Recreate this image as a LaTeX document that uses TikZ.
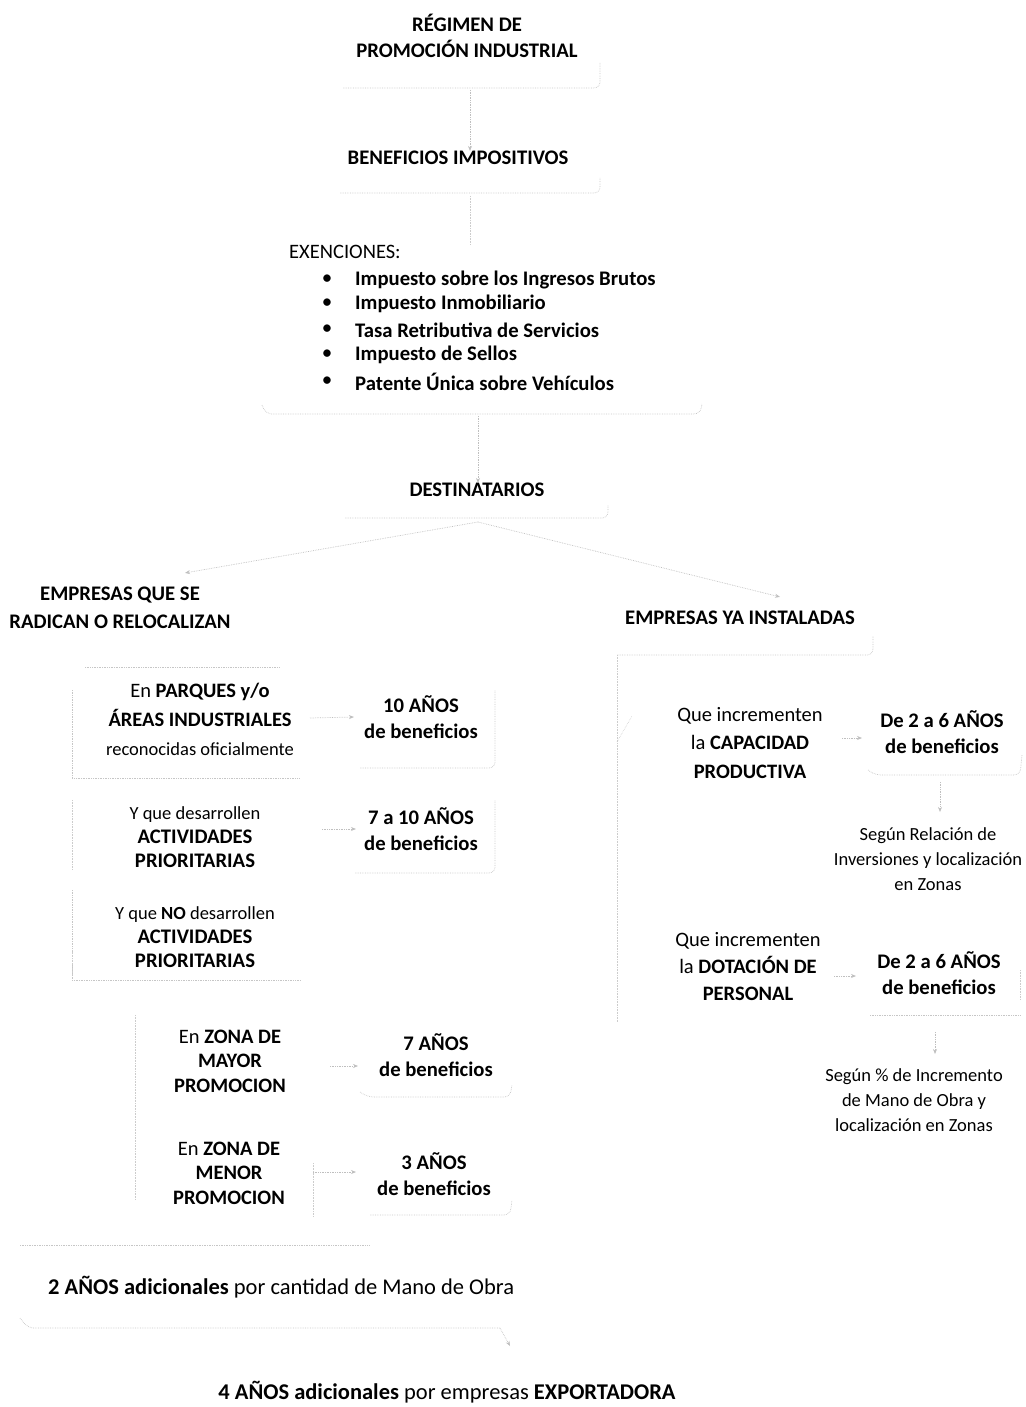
\documentclass[tikz,border=0pt]{standalone}
\usepackage{fontspec}
\setmainfont{Carlito}
\usetikzlibrary{arrows.meta,calc}
\begin{document}
\begin{tikzpicture}[x=1pt,y=-1pt,
  big/.style={font=\fontsize{20.7}{26}\selectfont\bfseries, align=center, inner sep=0pt},
  txt/.style={font=\fontsize{20.5}{28}\selectfont, align=center, inner sep=0pt},
  small/.style={font=\fontsize{18.5}{25}\selectfont, align=center, inner sep=0pt},
  edge/.style={gray!45, densely dotted, line width=0.7pt, rounded corners=6pt},
  conn/.style={gray!50, densely dotted, line width=0.7pt, -{Stealth[length=5pt,width=4pt]}},
  spine/.style={gray!40, densely dotted, line width=0.6pt}]
\useasboundingbox (0,0) rectangle (1025,1407);

% ---- top chain
\node[big] (title) at (467,36) {RÉGIMEN DE\\PROMOCIÓN INDUSTRIAL};
\node[big] (benef) at (458,158) {BENEFICIOS IMPOSITIVOS};
\node[txt, anchor=west] (exen) at (289,252) {EXENCIONES:};
\foreach \y/\t [count=\i] in {280/Impuesto sobre los Ingresos Brutos,
                              304/Impuesto Inmobiliario,
                              330/Tasa Retributiva de Servicios,
                              355/Impuesto de Sellos,
                              382/Patente Única sobre Vehículos}{
  \node[inner sep=0pt, font=\fontsize{21}{24}\selectfont] (bul\i) at (327,\y) {•};
  \node[big, anchor=west] (item\i) at (355,\y) {\t};
}
\node[big] (dest) at (477,490) {DESTINATARIOS};

% box outlines (top)
\draw[edge] (343,88) -- (600,88) -- (600,62);
\draw[edge] (340,193) -- (600,193) -- (600,178);
\draw[edge] (262,405) -- (266,414) -- (700,414) -- (702,404);
\draw[edge] (345,518) -- (608,518) -- (608,505);

\coordinate (t1) at (470,90);
\coordinate (t2) at (470,196);
\coordinate (t3) at (478,416);
\coordinate (t4) at (478,522);
\draw[conn] (t1) -- (benef.north -| t1);
\draw[spine] (t2) -- (exen.north -| t2);
\draw[conn] (t3) -- (dest.north -| t3);
\node[big] (left1) at (120,608) {EMPRESAS QUE SE\\[2pt]RADICAN O RELOCALIZAN};
\node[big] (right1) at (740,618) {EMPRESAS YA INSTALADAS};
\draw[conn] (t4) -- ($(left1.north)+(65,-14)$);
\draw[conn] (t4) -- ($(right1.north)+(40,-14)$);
\draw[edge] (617,655) -- (873,655) -- (873,636);

% ---- left column
\node[txt, font=\fontsize{20.5}{29}\selectfont] (parq) at (200,719)
  {En \textbf{PARQUES y/o}\\\textbf{ÁREAS INDUSTRIALES}\\{\fontsize{18.5}{20}\selectfont reconocidas oficialmente}};
\node[big] (ten) at (421,717) {10 AÑOS\\de beneficios};
\draw[edge, sharp corners] (85,667) -- (280,667);
\draw[edge, sharp corners] (72,690) -- (72,778) -- (300,778);
\draw[edge] (360,768) -- (495,768) -- (495,690);
\draw[conn] (310,718) -- ($(ten.west)+(-10,0)$);

\node[small, font=\fontsize{18.5}{24}\selectfont] (prio) at (195,837)
  {Y que desarrollen\\{\fontsize{20.7}{24}\selectfont\bfseries ACTIVIDADES}\\{\fontsize{20.7}{24}\selectfont\bfseries PRIORITARIAS}};
\node[big] (s710) at (421,829) {7 a 10 AÑOS\\de beneficios};
\draw[edge] (355,873) -- (495,873) -- (495,800);
\draw[conn] (322,829) -- ($(s710.west)+(-8,0)$);

\node[small, font=\fontsize{18.5}{24}\selectfont] (noprio) at (195,937)
  {Y que \textbf{NO} desarrollen\\{\fontsize{20.7}{24}\selectfont\bfseries ACTIVIDADES}\\{\fontsize{20.7}{24}\selectfont\bfseries PRIORITARIAS}};
\draw[edge, sharp corners] (72,890) -- (72,980) -- (300,980);

\node[txt, font=\fontsize{20.5}{24.5}\selectfont] (mayor) at (230,1061) {En \textbf{ZONA DE}\\\textbf{MAYOR}\\\textbf{PROMOCION}};
\node[big] (s7) at (436,1055) {7 AÑOS\\de beneficios};
\draw[edge] (360,1092) -- (368,1097) -- (510,1097) -- (512,1085);
\draw[conn] (330,1066) -- (358,1066);

\node[txt, font=\fontsize{20.5}{24.5}\selectfont] (menor) at (229,1173) {En \textbf{ZONA DE}\\\textbf{MENOR}\\\textbf{PROMOCION}};
\node[big] (s3) at (434,1174) {3 AÑOS\\de beneficios};
\draw[edge] (370,1215) -- (510,1215) -- (512,1200);
\draw[spine] (313,1163) -- (313,1217);
\draw[conn] (313,1172) -- (356,1172);

% left spine
\draw[spine] (72,800) -- (72,870);
\draw[spine] (72,950) -- (72,975);
\draw[spine] (135,1015) -- (135,1200);

\draw[edge, sharp corners] (20,1245) -- (370,1245);
\node[txt, anchor=west, font=\fontsize{22.5}{28}\selectfont] (add2) at (48,1287) {\textbf{2 AÑOS adicionales} por cantidad de Mano de Obra};
\draw[edge] (20,1318) -- (28,1328) -- (500,1328);
\node[txt, font=\fontsize{22.5}{28}\selectfont] (add4) at (447,1392) {\textbf{4 AÑOS adicionales} por empresas \textbf{EXPORTADORA}};
\draw[conn] (500,1328) -- (510,1346);

% ---- right column
\draw[spine] (617,655) -- (617,1022);
\node[txt, font=\fontsize{20.5}{28.5}\selectfont] (cap) at (750,743) {Que incrementen\\la \textbf{CAPACIDAD}\\\textbf{PRODUCTIVA}};
\node[big] (d26a) at (942,732) {De 2 a 6 AÑOS\\de beneficios};
\draw[edge] (868,770) -- (875,775) -- (1020,775) -- (1022,755);
\draw[conn] (842,738) -- (862,738);
\draw[spine] (617,742) -- (632,716);
\node[small] (seg1) at (928,859) {Según Relación de\\Inversiones y localización\\en Zonas};
\draw[conn] (940,782) -- (940,812);

\node[txt, font=\fontsize{20.5}{27}\selectfont] (dot) at (748,967) {Que incrementen\\la \textbf{DOTACIÓN DE}\\\textbf{PERSONAL}};
\node[big] (d26b) at (939,973) {De 2 a 6 AÑOS\\de beneficios};
\draw[edge, sharp corners] (870,1015) -- (1020,1015);
\draw[spine] (1020,970) -- (1020,1000);
\draw[conn] (834,976) -- (856,976);
\node[small] (seg2) at (914,1100) {Según \% de Incremento\\de Mano de Obra y\\localización en Zonas};
\draw[conn] (935,1032) -- (935,1054);
\end{tikzpicture}
\end{document}
